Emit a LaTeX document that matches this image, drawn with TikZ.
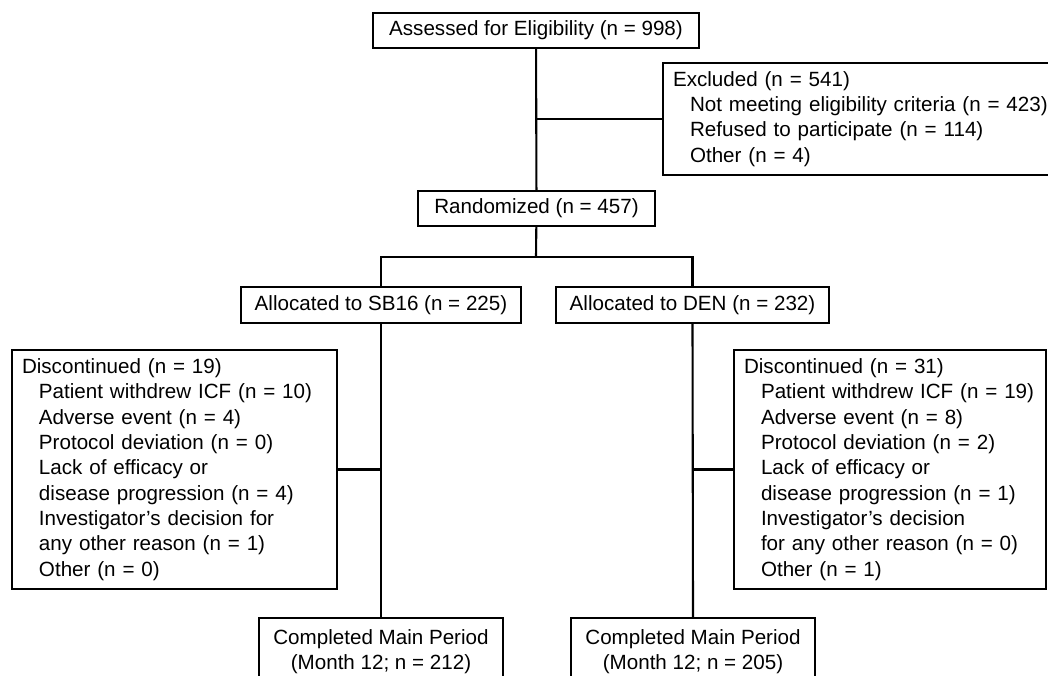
\documentclass[tikz,border=0pt]{standalone}
\usepackage{fontspec}
\setmainfont{Liberation Sans}
\newcommand{\itm}{\hspace*{8.5pt}}
\begin{document}
\begin{tikzpicture}[x=.5pt,y=-.5pt,line width=1.05pt,
 every node/.style={font=\fontsize{10.3}{12.65}\selectfont},
 box/.style={draw,minimum height=17.5pt,inner sep=0pt},
 listbox/.style={draw,align=left,inner xsep=5pt,inner ysep=0pt}]
 \clip (0,0) rectangle (1048,675);
 \node[box,minimum width=163pt] (assess) at (536,30.5) {Assessed for Eligibility (n = 998)};
 \node[listbox,text width=190pt,minimum height=56pt] (excl) at (863,119)
   {Excluded (n = 541)\\ \itm Not meeting eligibility criteria (n = 423)\\
    \itm Refused to participate (n = 114)\\ \itm Other (n = 4)};
 \node[box,minimum width=118.5pt] (rand) at (536.5,208.5) {Randomized (n = 457)};
 \coordinate (split) at (536,257);
 \node[box,minimum width=140pt,minimum height=18pt] (sb) at (381,305) {Allocated to SB16 (n = 225)};
 \node[box,minimum width=136.5pt,minimum height=18pt] (den) at (692.5,305) {Allocated to DEN (n = 232)};
 \node[listbox,text width=152.5pt,minimum height=119.5pt] (discL) at (174.5,469.5)
   {Discontinued (n = 19)\\ \itm Patient withdrew ICF (n = 10)\\
    \itm Adverse event (n = 4)\\ \itm Protocol deviation (n = 0)\\
    \itm Lack of efficacy or\\ \itm disease progression (n = 4)\\
    \itm Investigator’s decision for\\ \itm any other reason (n = 1)\\
    \itm Other (n = 0)};
 \node[listbox,text width=146pt,minimum height=119.5pt] (discR) at (890,469.5)
   {Discontinued (n = 31)\\ \itm Patient withdrew ICF (n = 19)\\
    \itm Adverse event (n = 8)\\ \itm Protocol deviation (n = 2)\\
    \itm Lack of efficacy or\\ \itm disease progression (n = 1)\\
    \itm Investigator’s decision\\ \itm for any other reason (n = 0)\\
    \itm Other (n = 1)};
 \node[box,minimum width=122pt,minimum height=34pt,align=center] (compL) at (381,652)
   {Completed Main Period\\(Month 12; n = 212)};
 \node[box,minimum width=122pt,minimum height=34pt,align=center] (compR) at (693,652)
   {Completed Main Period\\(Month 12; n = 205)};
 \draw (assess) -- (rand);
 \draw (assess.south |- excl.west) -- (excl.west);
 \draw (rand) -- (split);
 \draw (sb.north) -- (sb.north |- split) -- (den.north |- split) -- (den.north);
 \draw (sb) -- (compL);
 \draw (sb.south |- discL.east) -- (discL.east);
 \draw (den.south) -- (compR.north);
 \draw (den.south |- discR.west) -- (discR.west);
\end{tikzpicture}
\end{document}
